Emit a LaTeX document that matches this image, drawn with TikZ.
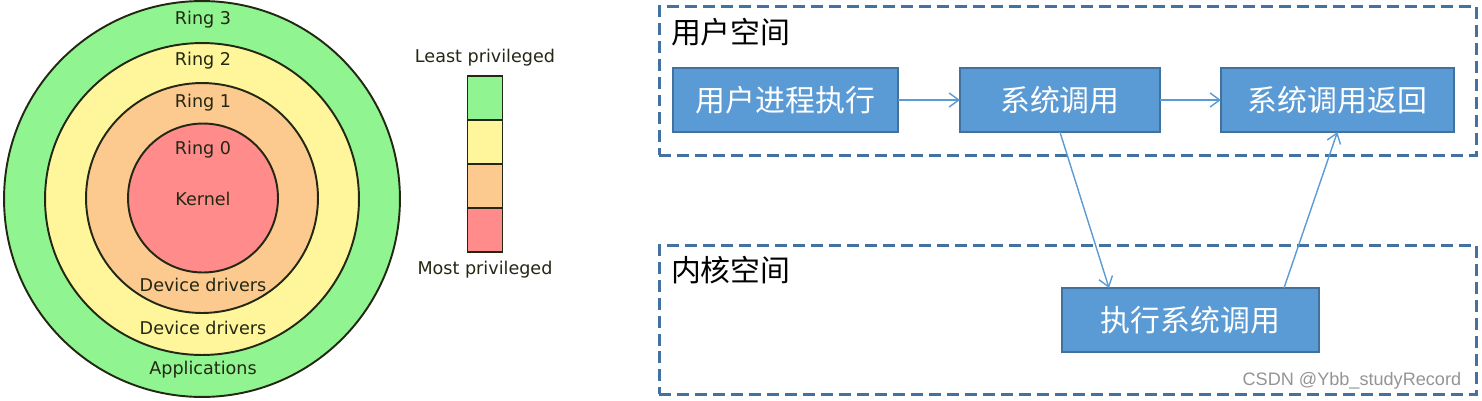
\documentclass[tikz,border=0pt]{standalone}
\usepackage{fontspec}
\setmainfont{DejaVu Sans}
\newfontfamily\cjkfont{Noto Sans CJK SC}
\newfontfamily\markfont{Liberation Sans}
\usepackage{tikz}
\usetikzlibrary{positioning,calc,arrows.meta}

\definecolor{ringgreen}{RGB}{144,245,144}
\definecolor{ringyellow}{RGB}{255,246,155}
\definecolor{ringorange}{RGB}{252,201,142}
\definecolor{ringred}{RGB}{255,139,139}
\definecolor{ringline}{RGB}{35,40,20}
\definecolor{boxfill}{RGB}{91,155,213}
\definecolor{boxline}{RGB}{65,113,156}
\definecolor{spaceline}{RGB}{68,114,160}

\begin{document}
\begin{tikzpicture}[x=0.02cm, y=-0.02cm, node distance=0cm, outer sep=0pt,
    ring/.style={draw=ringline, line width=1.1pt},
    ringtext/.style={text=ringline, font=\fontsize{10}{12}\selectfont},
    legendbox/.style={draw=ringline, line width=0.9pt, minimum width=0.7cm, minimum height=0.88cm},
    stepbox/.style={draw=boxline, line width=1.1pt, fill=boxfill, text=white, minimum height=1.28cm, font=\cjkfont\fontsize{17}{20}\selectfont},
    spacebox/.style={draw=spaceline, line width=1.7pt, dash pattern=on 0.24cm off 0.12cm, minimum width=16.35cm, minimum height=2.98cm},
    spacelabel/.style={anchor=west, inner sep=0pt, font=\cjkfont\fontsize{17}{20}\selectfont},
    flow/.style={draw=boxfill, line width=0.8pt, -{Straight Barb[length=5.5pt,width=8pt]}}]
    \useasboundingbox (0,0) rectangle (1482,400);

        % privilege rings
        \draw [ring, fill=ringgreen] (202,199) ellipse [x radius=3.96cm, y radius=3.96cm];
        \draw [ring, fill=ringyellow] (202,199) ellipse [x radius=3.14cm, y radius=3.12cm];
        \draw [ring, fill=ringorange] (202,198) ellipse [x radius=2.32cm, y radius=2.3cm];
        \draw [ring, fill=ringred] (203,198) ellipse [x radius=1.5cm, y radius=1.49cm];

        \node [ringtext] (R3) at (203,20) {Ring 3};
        \node [ringtext] (R2) at (203,61) {Ring 2};
        \node [ringtext] (R1) at (203,103) {Ring 1};
        \node [ringtext] (R0) at (203,150) {Ring 0};
        \node [ringtext] (Kernel) at (203,199) {Kernel};
        \node [ringtext] (Drv1) at (203,285) {Device drivers};
        \node [ringtext] (Drv2) at (203,328) {Device drivers};
        \node [ringtext] (Apps) at (203,370) {Applications};

        % legend bar
        \node [legendbox, fill=ringgreen] (LegGreen) at (485,98) {};
        \node [legendbox, fill=ringyellow, below=0pt of LegGreen] (LegYellow) {};
        \node [legendbox, fill=ringorange, below=0pt of LegYellow] (LegOrange) {};
        \node [legendbox, fill=ringred, below=0pt of LegOrange] (LegRed) {};
        \node [ringtext, above=0.09cm of LegGreen] (Least) {Least privileged};
        \node [ringtext, below=0.07cm of LegRed] (Most) {Most privileged};

        % user space / kernel space
        \node [spacebox] (UserSpace) at (1068,81) {};
        \node [spacebox] (KernelSpace) at (1068,320) {};
        \node [spacelabel] (UserLabel) at (671,32) {用户空间};
        \node [spacelabel] (KernelLabel) at (671,270) {内核空间};

        \node [stepbox, minimum width=4.5cm] (Exec) at (785.5,100) {用户进程执行};
        \node [stepbox, minimum width=4cm, right=1.24cm of Exec] (Syscall) {系统调用};
        \node [stepbox, minimum width=4.66cm, right=1.22cm of Syscall] (Return) {系统调用返回};
        \node [stepbox, minimum width=5.14cm] (Handle) at (1190.5,320) {执行系统调用};

        \draw [flow] (Exec) -- (Syscall);
        \draw [flow] (Syscall) -- (Return);
        \draw [flow] (Syscall.south) -- ([xshift=0.94cm]Handle.north west);
        \draw [flow] ([xshift=-0.7cm]Handle.north east) -- (Return.south);

        \node [anchor=east, text=black!42, font=\markfont\fontsize{10.3}{12}\selectfont] (Mark) at (1467,381) {CSDN @Ybb\_studyRecord};
    \end{tikzpicture}
\end{document}
